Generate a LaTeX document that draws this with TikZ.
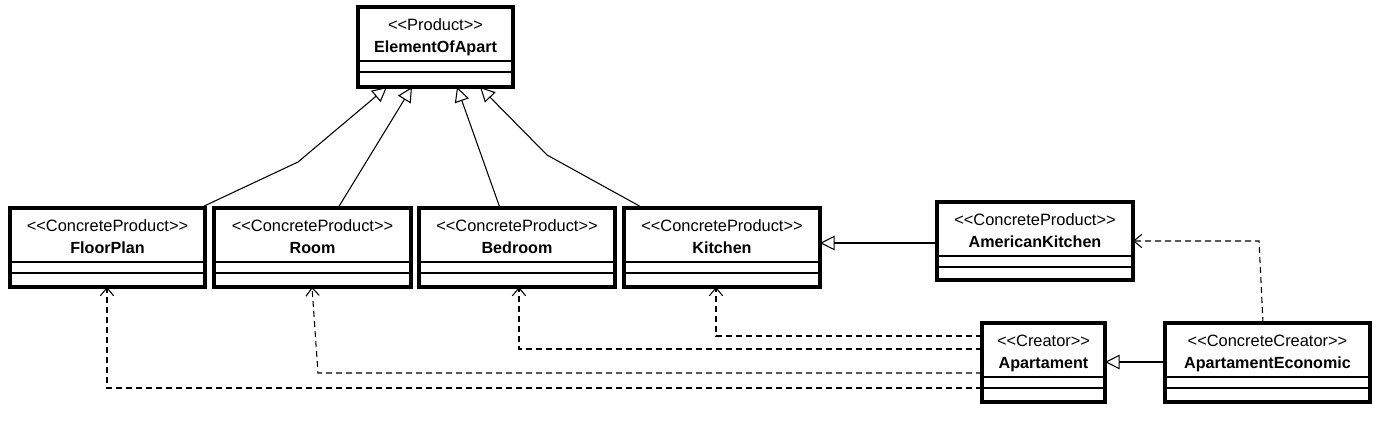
\documentclass[tikz,border=0pt]{standalone}
\usepackage{fontspec}
\setmainfont{Liberation Sans}
\usetikzlibrary{arrows.meta,calc}
\tikzset{
  x=0.75pt, y=-0.75pt,
  classbox/.style={draw, line width=2.3pt, fill=white, rectangle, inner sep=0pt, outer sep=0pt, anchor=north west},
  sepline/.style={line width=1pt},
  stereo/.style={font=\fontsize{12.3}{14}\selectfont, inner sep=0pt, text height=8pt, text depth=0pt},
  cname/.style={font=\fontsize{12.1}{14}\selectfont\bfseries, inner sep=0pt, text height=8pt, text depth=0pt},
  gen/.style={line width=0.8pt, -{Triangle[open,length=11pt,width=11pt,line width=0.8pt]}},
  dep/.style={line width=0.8pt, dash pattern=on 4.5pt off 3pt, -{Straight Barb[length=6pt,width=10pt,line width=0.8pt]}},
}
\newcommand\stq[1]{\mbox{<}\mbox{<}#1\mbox{>}\mbox{>}}
% name, left, top, width, height, stereotype, title
\newcommand\umlclass[7]{%
  \node[classbox, minimum width={#4*0.75pt}, minimum height={#5*0.75pt}] (#1) at (#2,#3) {};
  \node[stereo] (#1-st) at ($(#1.north)+(0,18)$) {\stq{#6}};
  \node[cname] (#1-nm) at ($(#1.north)+(0,40)$) {#7};
  \draw[sepline] ($(#1.north west)+(0,54)$) -- ($(#1.north east)+(0,54)$);
  \draw[sepline] ($(#1.north west)+(0,65)$) -- ($(#1.north east)+(0,65)$);
}
\begin{document}
\begin{tikzpicture}
\fill[white] (0,0) rectangle (1377,424);
\useasboundingbox (0,0) rectangle (1377,424);

\umlclass{elem}{358}{7}{155}{80}{Product}{ElementOfApart}
\umlclass{floorplan}{10}{208}{195}{79}{ConcreteProduct}{FloorPlan}
\umlclass{room}{214}{208}{197}{79}{ConcreteProduct}{Room}
\umlclass{bedroom}{419}{208}{196}{79}{ConcreteProduct}{Bedroom}
\umlclass{kitchen}{624}{208}{196}{79}{ConcreteProduct}{Kitchen}
\umlclass{amkitchen}{937}{202}{196}{78}{ConcreteProduct}{AmericanKitchen}
\umlclass{apart}{982}{323}{123}{79}{Creator}{Apartament}
\umlclass{apeco}{1165}{323}{205}{79}{ConcreteCreator}{ApartamentEconomic}

% generalizations to ElementOfApart
\draw[gen] ($(floorplan.north west)+(190,0)$) -- (298,162) -- ($(elem.south west)+(29,0)$);
\draw[gen] ($(room.north west)+(124,0)$) -- ($(elem.south west)+(54,0)$);
\draw[gen] ($(bedroom.north west)+(81,0)$) -- ($(elem.south west)+(99,0)$);
\draw[gen] ($(kitchen.north west)+(19,0)$) -- (547,155) -- ($(elem.south west)+(122,0)$);

% other generalizations
\draw[gen] ($(amkitchen.north west)+(0,41)$) -- ($(kitchen.north east)+(0,35)$);
\draw[gen] ($(apeco.north west)+(0,39)$) -- ($(apart.north east)+(0,39)$);

% dependencies
\draw[dep] ($(apart.north west)+(0,13)$) -| ($(kitchen.south west)+(92,0)$);
\draw[dep] ($(apart.north west)+(0,26)$) -| ($(bedroom.south west)+(100,0)$);
\draw[dep] ($(apart.north west)+(0,50)$) -- ($(room.south west)+(104,86)$) -- ($(room.south west)+(98,0)$);
\draw[dep] ($(apart.north west)+(0,65)$) -| ($(floorplan.south west)+(97,0)$);
\draw[dep] ($(apeco.north west)+(98,0)$) -- (1259,241) -- ($(amkitchen.north east)+(0,39)$);
\end{tikzpicture}
\end{document}
